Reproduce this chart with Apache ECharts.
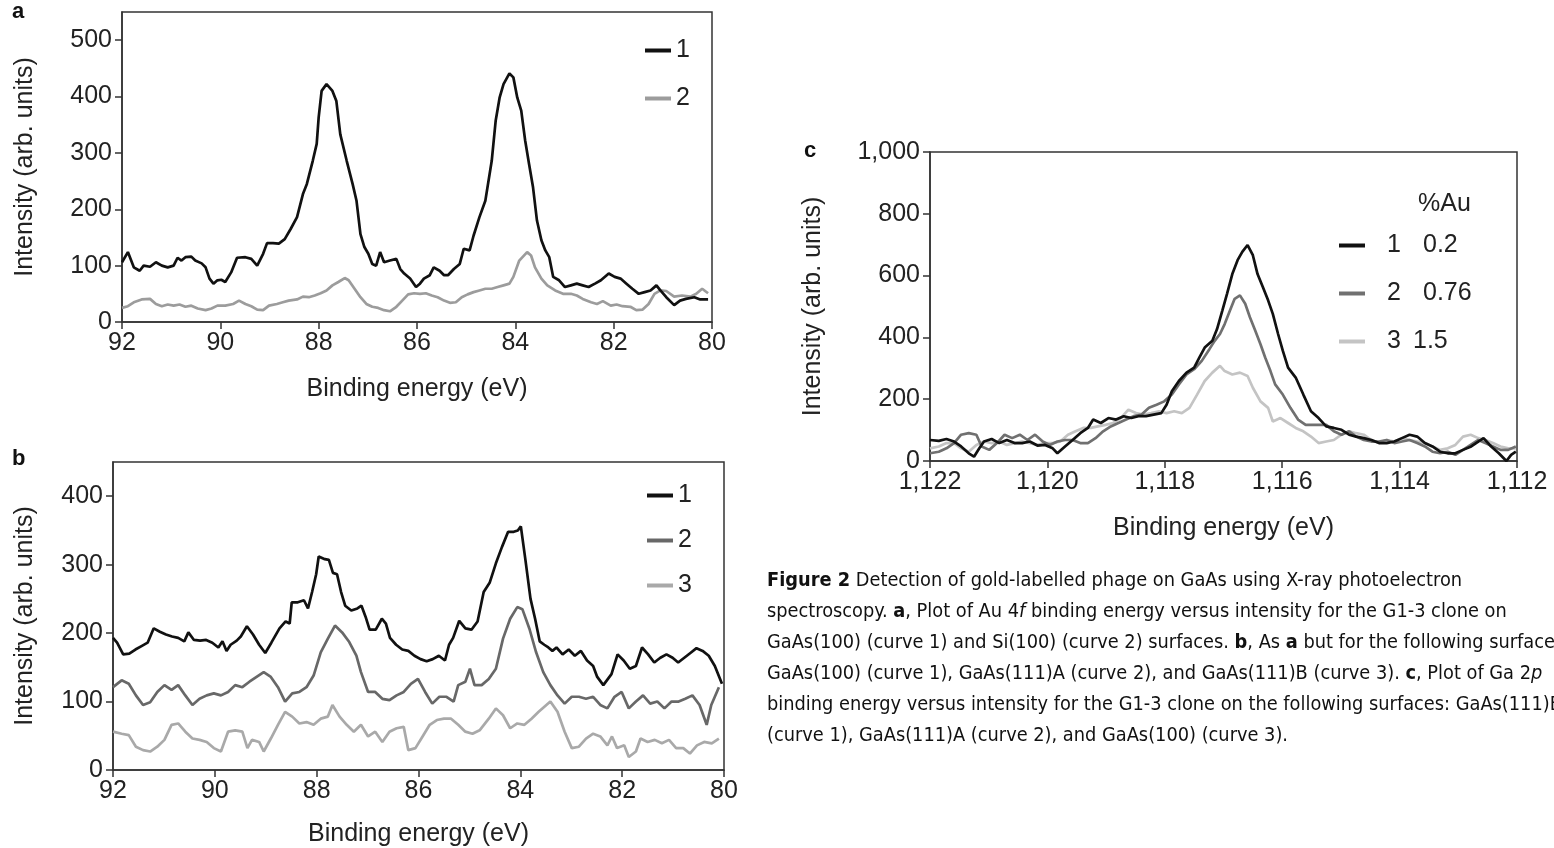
<!DOCTYPE html>
<html>
<head>
<meta charset="utf-8">
<script src="https://cdn.jsdelivr.net/npm/echarts@6/dist/echarts.min.js"></script>
<style>
html,body{margin:0;padding:0;background:#fff;}
#main{width:1554px;height:848px;}
</style>
</head>
<body>
<div id="main"></div>
<script>
// ---------------- DATA ----------------
// Panel a: Au 4f, [binding energy (eV), intensity]
const aCurve1 = [[92.00,106],[91.88,124],[91.76,97],[91.64,91],[91.56,100],[91.43,98],[91.31,106],[91.19,100],[91.07,97],[90.95,100],[90.87,114],[90.79,109],[90.71,115],[90.59,116],[90.51,109],[90.38,104],[90.30,97],[90.22,77],[90.14,68],[90.06,74],[89.98,75],[89.90,71],[89.78,88],[89.66,114],[89.49,115],[89.37,112],[89.25,100],[89.13,121],[89.05,140],[88.93,140],[88.81,139],[88.69,147],[88.57,165],[88.44,186],[88.32,227],[88.24,245],[88.12,286],[88.04,316],[88.00,363],[87.94,410],[87.84,422],[87.72,410],[87.64,392],[87.56,333],[87.43,286],[87.31,245],[87.23,215],[87.15,156],[87.07,133],[86.99,121],[86.91,103],[86.83,100],[86.75,124],[86.67,106],[86.55,109],[86.42,112],[86.34,94],[86.26,86],[86.14,77],[86.02,62],[85.94,68],[85.86,77],[85.74,83],[85.66,97],[85.54,91],[85.45,83],[85.37,83],[85.25,94],[85.13,103],[85.05,130],[84.93,127],[84.85,153],[84.73,186],[84.61,215],[84.48,286],[84.40,357],[84.32,398],[84.24,422],[84.12,441],[84.04,434],[83.96,398],[83.88,375],[83.80,322],[83.72,280],[83.64,239],[83.56,180],[83.47,145],[83.39,127],[83.31,115],[83.23,80],[83.11,74],[82.99,62],[82.87,65],[82.75,68],[82.63,65],[82.51,62],[82.38,68],[82.26,74],[82.10,86],[81.98,80],[81.86,77],[81.74,68],[81.62,59],[81.49,50],[81.37,53],[81.25,56],[81.13,65],[81.05,56],[80.93,44],[80.77,30],[80.65,38],[80.53,41],[80.36,44],[80.24,40],[80.08,40]];
const aCurve2 = [[92.00,25],[91.88,28],[91.76,35],[91.60,40],[91.43,41],[91.31,32],[91.19,28],[91.07,31],[90.95,29],[90.83,31],[90.71,27],[90.59,29],[90.46,24],[90.30,21],[90.18,24],[90.06,29],[89.90,29],[89.74,32],[89.62,38],[89.49,32],[89.37,28],[89.25,22],[89.13,21],[89.01,29],[88.85,32],[88.73,35],[88.61,38],[88.44,40],[88.32,45],[88.20,44],[88.08,47],[87.96,51],[87.84,56],[87.72,65],[87.60,71],[87.47,78],[87.39,74],[87.27,59],[87.15,44],[87.03,32],[86.91,27],[86.79,25],[86.67,21],[86.55,19],[86.42,27],[86.30,38],[86.18,49],[86.06,51],[85.94,50],[85.82,51],[85.70,47],[85.58,44],[85.45,38],[85.33,34],[85.21,35],[85.09,44],[84.97,49],[84.85,53],[84.73,56],[84.61,59],[84.48,59],[84.36,62],[84.24,65],[84.12,68],[84.04,80],[83.92,109],[83.76,124],[83.68,118],[83.60,97],[83.47,77],[83.35,65],[83.19,56],[83.03,50],[82.87,50],[82.75,47],[82.63,41],[82.46,35],[82.34,32],[82.22,37],[82.06,29],[81.94,31],[81.82,28],[81.66,27],[81.54,21],[81.41,22],[81.29,32],[81.17,50],[81.05,56],[80.93,55],[80.77,45],[80.61,47],[80.44,45],[80.32,50],[80.20,59],[80.08,51]];

// Panel b: Au 4f on three GaAs surfaces
const bCurve1 = [[92.00,193],[91.92,186],[91.80,169],[91.68,170],[91.56,176],[91.44,181],[91.32,186],[91.20,207],[91.08,202],[90.96,198],[90.84,195],[90.72,193],[90.60,188],[90.52,201],[90.41,190],[90.29,189],[90.17,190],[90.05,186],[89.93,179],[89.85,188],[89.77,174],[89.69,183],[89.57,189],[89.49,195],[89.37,210],[89.25,198],[89.13,183],[89.01,171],[88.89,186],[88.73,207],[88.61,217],[88.53,214],[88.49,245],[88.37,245],[88.25,248],[88.17,236],[88.09,260],[88.01,286],[87.96,312],[87.84,308],[87.76,307],[87.68,288],[87.60,286],[87.52,260],[87.44,240],[87.32,233],[87.20,236],[87.12,240],[87.04,224],[86.96,205],[86.84,205],[86.72,221],[86.64,214],[86.56,193],[86.44,183],[86.32,176],[86.20,174],[86.08,167],[85.96,162],[85.84,159],[85.72,162],[85.60,167],[85.48,160],[85.40,183],[85.32,193],[85.20,218],[85.08,207],[84.96,205],[84.84,217],[84.72,260],[84.60,274],[84.48,302],[84.36,326],[84.24,348],[84.13,348],[84.05,350],[83.99,356],[83.90,307],[83.80,250],[83.71,221],[83.62,188],[83.53,183],[83.45,179],[83.37,174],[83.29,179],[83.17,169],[83.05,176],[82.93,167],[82.81,174],[82.69,160],[82.57,152],[82.49,136],[82.37,124],[82.21,140],[82.09,169],[81.97,160],[81.85,148],[81.73,152],[81.61,179],[81.49,169],[81.37,157],[81.25,164],[81.13,169],[81.01,164],[80.90,157],[80.78,164],[80.66,171],[80.54,178],[80.42,174],[80.30,167],[80.18,152],[80.04,126]];
const bCurve2 = [[92.00,121],[91.83,131],[91.69,126],[91.55,109],[91.41,95],[91.27,99],[91.13,114],[90.99,124],[90.85,117],[90.72,124],[90.58,109],[90.44,95],[90.30,104],[90.16,109],[90.02,112],[89.88,109],[89.74,114],[89.60,124],[89.46,121],[89.32,129],[89.18,136],[89.04,143],[88.90,136],[88.76,121],[88.62,100],[88.48,112],[88.34,114],[88.20,121],[88.06,138],[87.92,172],[87.78,192],[87.64,211],[87.50,201],[87.36,187],[87.22,167],[87.13,143],[86.99,114],[86.85,114],[86.71,104],[86.57,102],[86.43,109],[86.29,114],[86.15,126],[86.01,133],[85.87,114],[85.73,97],[85.59,107],[85.45,107],[85.31,100],[85.22,124],[85.08,129],[84.99,148],[84.90,124],[84.76,124],[84.62,133],[84.48,148],[84.34,192],[84.20,221],[84.06,238],[83.96,235],[83.82,206],[83.69,172],[83.55,143],[83.41,124],[83.27,109],[83.13,97],[82.99,107],[82.85,107],[82.71,104],[82.57,107],[82.43,95],[82.29,90],[82.15,107],[82.01,114],[81.87,90],[81.73,100],[81.59,109],[81.45,97],[81.31,100],[81.17,90],[81.03,100],[80.89,100],[80.76,104],[80.62,109],[80.48,95],[80.34,66],[80.25,95],[80.10,121]];
const bCurve3 = [[92.00,56],[91.83,53],[91.69,51],[91.55,34],[91.41,29],[91.27,27],[91.13,34],[90.99,44],[90.85,66],[90.72,68],[90.58,56],[90.44,46],[90.30,44],[90.16,41],[90.02,32],[89.88,27],[89.74,56],[89.60,58],[89.46,56],[89.36,32],[89.27,44],[89.13,41],[89.04,27],[88.90,46],[88.76,66],[88.62,85],[88.48,78],[88.34,68],[88.20,70],[88.06,66],[87.92,75],[87.78,78],[87.69,95],[87.55,78],[87.41,66],[87.27,56],[87.13,66],[86.99,49],[86.85,56],[86.71,41],[86.57,56],[86.43,61],[86.29,63],[86.20,29],[86.06,32],[85.92,49],[85.78,66],[85.64,73],[85.50,75],[85.36,75],[85.22,66],[85.08,56],[84.94,53],[84.80,58],[84.62,75],[84.48,90],[84.34,80],[84.20,61],[84.06,68],[83.92,66],[83.78,75],[83.64,85],[83.41,100],[83.27,85],[83.13,56],[82.99,32],[82.85,34],[82.71,46],[82.57,53],[82.43,49],[82.29,36],[82.20,49],[82.10,32],[81.96,36],[81.87,19],[81.73,27],[81.64,46],[81.50,41],[81.36,44],[81.22,39],[81.08,44],[80.94,32],[80.80,32],[80.67,24],[80.53,36],[80.39,41],[80.24,39],[80.10,46]];

// Panel c: Ga 2p
const cCurve1 = [[1122.00,68],[1121.85,65],[1121.72,71],[1121.59,63],[1121.47,47],[1121.34,25],[1121.25,14],[1121.16,41],[1121.08,63],[1120.95,71],[1120.82,58],[1120.69,68],[1120.56,58],[1120.43,58],[1120.30,63],[1120.17,50],[1120.04,52],[1119.91,41],[1119.83,25],[1119.70,47],[1119.57,68],[1119.44,90],[1119.31,107],[1119.22,134],[1119.09,123],[1118.96,139],[1118.83,134],[1118.70,145],[1118.57,139],[1118.45,145],[1118.32,145],[1118.19,150],[1118.06,155],[1117.97,182],[1117.88,226],[1117.76,259],[1117.63,286],[1117.50,302],[1117.41,335],[1117.32,367],[1117.19,389],[1117.11,427],[1117.02,487],[1116.94,541],[1116.85,605],[1116.76,650],[1116.68,677],[1116.59,699],[1116.50,666],[1116.42,605],[1116.33,563],[1116.24,520],[1116.16,476],[1116.07,411],[1115.99,357],[1115.90,302],[1115.77,270],[1115.64,215],[1115.51,161],[1115.38,139],[1115.25,112],[1115.12,107],[1114.99,101],[1114.86,85],[1114.74,79],[1114.61,74],[1114.48,68],[1114.35,58],[1114.22,58],[1114.09,63],[1113.96,74],[1113.83,85],[1113.70,79],[1113.57,58],[1113.44,47],[1113.31,30],[1113.18,25],[1113.05,25],[1112.92,36],[1112.78,47],[1112.66,63],[1112.57,74],[1112.44,47],[1112.31,25],[1112.18,0],[1112.10,20],[1112.02,30]];
const cCurve2 = [[1122.00,25],[1121.85,30],[1121.72,41],[1121.59,58],[1121.47,85],[1121.34,90],[1121.21,85],[1121.12,47],[1120.99,36],[1120.86,58],[1120.73,85],[1120.60,74],[1120.47,85],[1120.34,68],[1120.21,85],[1120.08,63],[1119.96,52],[1119.83,63],[1119.70,68],[1119.57,68],[1119.44,58],[1119.31,58],[1119.18,74],[1119.05,96],[1118.92,112],[1118.79,123],[1118.66,134],[1118.53,145],[1118.40,150],[1118.27,172],[1118.14,182],[1118.01,193],[1117.88,215],[1117.76,248],[1117.63,280],[1117.50,297],[1117.37,324],[1117.24,362],[1117.15,389],[1117.06,411],[1116.98,443],[1116.89,487],[1116.81,525],[1116.72,536],[1116.63,509],[1116.55,465],[1116.46,422],[1116.37,378],[1116.29,335],[1116.20,291],[1116.12,248],[1115.99,215],[1115.86,172],[1115.73,134],[1115.60,117],[1115.43,117],[1115.25,117],[1115.12,96],[1114.99,85],[1114.86,96],[1114.74,79],[1114.61,68],[1114.48,63],[1114.35,63],[1114.22,68],[1114.09,58],[1113.96,63],[1113.83,68],[1113.70,58],[1113.57,47],[1113.44,30],[1113.31,25],[1113.18,30],[1113.05,20],[1112.92,36],[1112.79,52],[1112.66,68],[1112.54,58],[1112.41,47],[1112.28,36],[1112.15,36],[1112.02,47]];
const cCurve3 = [[1122.00,41],[1121.85,47],[1121.72,58],[1121.59,58],[1121.47,41],[1121.34,30],[1121.21,52],[1121.08,63],[1120.95,58],[1120.82,63],[1120.69,52],[1120.56,58],[1120.43,63],[1120.30,58],[1120.17,52],[1120.04,58],[1119.91,58],[1119.78,63],[1119.65,85],[1119.52,96],[1119.39,107],[1119.26,107],[1119.14,112],[1119.01,117],[1118.88,123],[1118.75,139],[1118.62,166],[1118.49,155],[1118.36,150],[1118.23,155],[1118.10,161],[1117.97,155],[1117.84,161],[1117.71,155],[1117.58,172],[1117.45,215],[1117.32,259],[1117.19,286],[1117.06,308],[1116.98,291],[1116.85,280],[1116.72,286],[1116.59,275],[1116.50,237],[1116.37,193],[1116.24,172],[1116.16,128],[1116.03,139],[1115.90,123],[1115.77,107],[1115.64,96],[1115.51,79],[1115.38,58],[1115.25,63],[1115.12,68],[1114.99,85],[1114.86,96],[1114.74,90],[1114.61,85],[1114.48,68],[1114.35,58],[1114.22,68],[1114.09,63],[1113.96,74],[1113.83,68],[1113.70,63],[1113.57,58],[1113.44,47],[1113.31,36],[1113.18,41],[1113.05,52],[1112.92,79],[1112.79,85],[1112.66,74],[1112.54,68],[1112.41,58],[1112.28,47],[1112.15,41],[1112.02,41]];

// Tick values
const yTicksA = [0, 100, 200, 300, 400, 500];
const yTicksB = [0, 100, 200, 300, 400];
const yTicksC = [0, 200, 400, 600, 800, 1000];
const xTicksAB = [80, 82, 84, 86, 88, 90, 92];
const xTicksC = [1112, 1114, 1116, 1118, 1120, 1122];

// Legend labels
const legendA = {a1: '1', a2: '2'};
const legendB = {b1: '1', b2: '2', b3: '3'};
const legendC = {c1: ['1', '0.2'], c2: ['2', '0.76'], c3: ['3', '1.5']};

// ---------------- CHART ----------------
const FONT = '"Liberation Sans", Arial, sans-serif';
const NARROW = '"Liberation Sans Narrow", "Arial Narrow", "DejaVu Sans Condensed", sans-serif';
const AX = '#333';
const TXT = '#222';
const FS = 25;
const CFS = 19.8;
const fmtNum = v => Number(v).toLocaleString('en-US');

function xAxisCfg(grid, min, max, ticks, gap, fmt) {
  return {
    type: 'value', gridIndex: grid, min: min, max: max, interval: 2, inverse: true,
    name: 'Binding energy (eV)', nameLocation: 'middle', nameGap: gap,
    nameTextStyle: {fontFamily: FONT, fontSize: FS, color: TXT},
    axisLine: {show: true, lineStyle: {color: AX, width: 1.5}},
    axisTick: {show: true, length: 7, lineStyle: {color: AX, width: 1.5}, customValues: ticks},
    axisLabel: {fontFamily: FONT, fontSize: FS, color: TXT, margin: 9, customValues: ticks, formatter: fmt},
    splitLine: {show: false}
  };
}
function yAxisCfg(grid, max, ticks, gap, fmt) {
  return {
    type: 'value', gridIndex: grid, min: 0, max: max,
    name: 'Intensity (arb. units)', nameLocation: 'middle', nameGap: gap,
    nameTextStyle: {fontFamily: FONT, fontSize: FS, color: TXT},
    axisLine: {show: true, lineStyle: {color: AX, width: 1.5}},
    axisTick: {show: true, length: 7, lineStyle: {color: AX, width: 1.5}, customValues: ticks},
    axisLabel: {fontFamily: FONT, fontSize: FS, color: TXT, margin: 10, customValues: ticks, formatter: fmt},
    splitLine: {show: false}
  };
}
function lineSeries(name, data, idx, color, width) {
  return {
    name: name, type: 'line', data: data, xAxisIndex: idx, yAxisIndex: idx,
    showSymbol: false, symbol: 'none', smooth: false,
    lineStyle: {color: color, width: width}, itemStyle: {color: color},
    emphasis: {disabled: true}, silent: true
  };
}
const legendBase = {
  orient: 'vertical', icon: 'rect', itemWidth: 26, itemHeight: 4,
  selectedMode: false,
  textStyle: {fontFamily: FONT, fontSize: FS, color: TXT, lineHeight: 24}
};

function captionLine(top, parts) {
  return {
    type: 'text', left: 767, top: top, silent: true,
    style: {
      text: parts,
      font: CFS + 'px ' + NARROW,
      fill: '#111',
      rich: {
        b: {fontFamily: NARROW, fontSize: CFS, fontWeight: 'bold', fill: '#111'},
        i: {fontFamily: NARROW, fontSize: CFS, fontStyle: 'italic', fill: '#111'}
      }
    }
  };
}

const chart = echarts.init(document.getElementById('main'), null, {renderer: 'canvas'});
chart.setOption({
  animation: false,
  backgroundColor: '#fff',
  grid: [
    {left: 122, top: 12, width: 590, height: 310, show: true, borderColor: AX, borderWidth: 1.5},
    {left: 113, top: 462, width: 611, height: 310, show: true, borderColor: AX, borderWidth: 1.5},
    {left: 930, top: 152, width: 587, height: 309, show: true, borderColor: AX, borderWidth: 1.5}
  ],
  xAxis: [
    xAxisCfg(0, 80, 92, xTicksAB, 55),
    xAxisCfg(1, 80, 92, xTicksAB, 52),
    xAxisCfg(2, 1112, 1122, xTicksC, 55, fmtNum)
  ],
  yAxis: [
    yAxisCfg(0, 550, yTicksA, 84),
    yAxisCfg(1, 450, yTicksB, 75),
    yAxisCfg(2, 1000, yTicksC, 104, fmtNum)
  ],
  legend: [
    Object.assign({}, legendBase, {left: 640, top: 33, itemGap: 23, data: ['a1', 'a2'],
      formatter: n => legendA[n]}),
    Object.assign({}, legendBase, {left: 642, top: 478, itemGap: 20, data: ['b1', 'b2', 'b3'],
      formatter: n => legendB[n]}),
    Object.assign({}, legendBase, {left: 1334, top: 228, itemGap: 23, data: ['c1', 'c2', 'c3'],
      formatter: n => '{n|' + legendC[n][0] + '}{' + (n === 'c3' ? 'w' : 'v') + '|' + legendC[n][1] + '}',
      textStyle: {fontFamily: FONT, fontSize: FS, color: TXT, lineHeight: 24,
        rich: {
          n: {fontFamily: FONT, fontSize: FS, color: TXT, width: 26, padding: [0, 0, 0, 17]},
          v: {fontFamily: FONT, fontSize: FS, color: TXT, padding: [0, 0, 0, 10]},
          w: {fontFamily: FONT, fontSize: FS, color: TXT, padding: [0, 0, 0, 0]}
        }}})
  ],
  series: [
    lineSeries('a2', aCurve2, 0, '#9c9c9c', 2.7),
    lineSeries('a1', aCurve1, 0, '#111111', 2.7),
    lineSeries('b3', bCurve3, 1, '#a9a9a9', 2.7),
    lineSeries('b2', bCurve2, 1, '#686868', 2.7),
    lineSeries('b1', bCurve1, 1, '#111111', 2.7),
    lineSeries('c3', cCurve3, 2, '#c4c4c4', 2.7),
    lineSeries('c2', cCurve2, 2, '#707070', 2.7),
    lineSeries('c1', cCurve1, 2, '#111111', 2.7)
  ],
  graphic: [
    {type: 'text', left: 12, top: 1, silent: true, style: {text: 'a', font: 'bold 22px ' + FONT, fill: '#111'}},
    {type: 'text', left: 12, top: 448, silent: true, style: {text: 'b', font: 'bold 22px ' + FONT, fill: '#111'}},
    {type: 'text', left: 804, top: 140, silent: true, style: {text: 'c', font: 'bold 22px ' + FONT, fill: '#111'}},
    {type: 'text', left: 1418, top: 192, silent: true, style: {text: '%Au', font: FS + 'px ' + FONT, fill: TXT}},
    captionLine(571, '{b|Figure 2} Detection of gold-labelled phage on GaAs using X-ray photoelectron'),
    captionLine(602, 'spectroscopy. {b|a}, Plot of Au 4{i|f} binding energy versus intensity for the G1-3 clone on'),
    captionLine(633, 'GaAs(100) (curve 1) and Si(100) (curve 2) surfaces. {b|b}, As {b|a} but for the following surfaces:'),
    captionLine(664, 'GaAs(100) (curve 1), GaAs(111)A (curve 2), and GaAs(111)B (curve 3). {b|c}, Plot of Ga 2{i|p}'),
    captionLine(695, 'binding energy versus intensity for the G1-3 clone on the following surfaces: GaAs(111)B'),
    captionLine(726, '(curve 1), GaAs(111)A (curve 2), and GaAs(100) (curve 3).')
  ]
});
</script>
</body>
</html>
